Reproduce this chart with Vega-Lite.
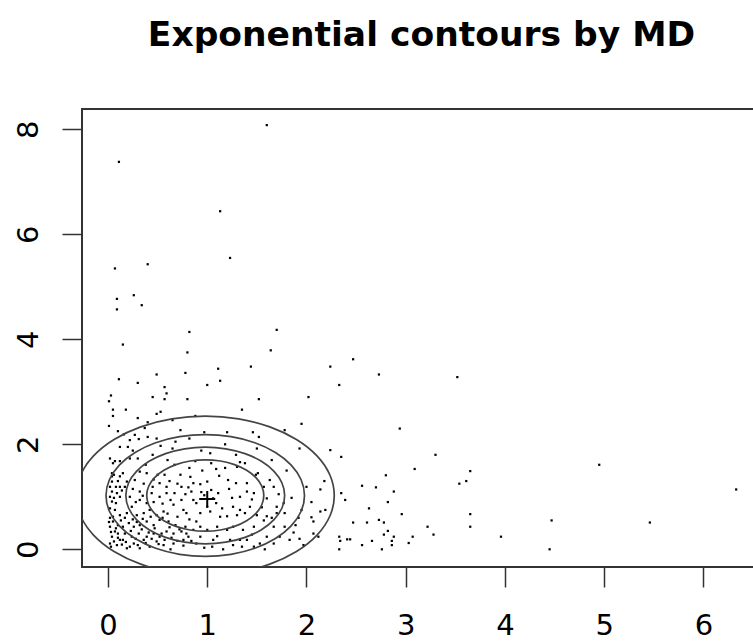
{
  "$schema": "https://vega.github.io/schema/vega-lite/v6.json",
  "autosize": {"type": "none"},
  "width": 679,
  "height": 458,
  "padding": {"left": 82, "top": 109, "right": 0, "bottom": 74},
  "background": "white",
  "title": {"text": "Exponential contours by MD", "font": "DejaVu Sans", "fontSize": 34.5, "fontWeight": "bold", "color": "black", "anchor": "middle", "frame": "group", "baseline": "alphabetic", "offset": 29},
  "config": {"view": {"stroke": "#333", "strokeWidth": 2}},
  "datasets": {
    "pts": [
      {"x":1.60,"y":8.08},{"x":0.11,"y":7.38},{"x":1.13,"y":6.44},{"x":1.23,"y":5.55},{"x":0.07,"y":5.35},{"x":0.40,"y":5.43},{"x":0.09,"y":4.77},{"x":0.26,"y":4.84},{"x":0.09,"y":4.57},{"x":0.34,"y":4.65},{"x":0.82,"y":4.14},{"x":1.70,"y":4.18},{"x":0.15,"y":3.90},{"x":0.80,"y":3.75},{"x":1.64,"y":3.79},{"x":2.47,"y":3.62},
      {"x":1.44,"y":3.48},{"x":1.11,"y":3.44},{"x":0.78,"y":3.36},{"x":0.49,"y":3.33},{"x":2.24,"y":3.48},{"x":2.73,"y":3.33},{"x":0.11,"y":3.24},{"x":0.30,"y":3.17},{"x":1.13,"y":3.21},{"x":1.00,"y":3.13},{"x":2.33,"y":3.13},{"x":0.57,"y":3.09},{"x":0.59,"y":2.97},{"x":0.03,"y":2.93},{"x":0.45,"y":2.90},{"x":0.57,"y":2.86},{"x":0.80,"y":2.86},{"x":1.52,"y":2.86},{"x":2.02,"y":2.90},{"x":0.01,"y":2.82},{"x":0.05,"y":2.66},{"x":0.18,"y":2.66},{"x":0.53,"y":2.62},{"x":0.49,"y":2.58},{"x":1.35,"y":2.66},{"x":0.05,"y":2.54},{"x":0.30,"y":2.50},{"x":0.65,"y":2.46},{"x":0.88,"y":2.54},{"x":1.95,"y":2.39},{"x":0.01,"y":2.35},{"x":0.37,"y":2.31},{"x":0.73,"y":2.27},{"x":0.97,"y":2.23},{"x":1.20,"y":2.23},{"x":1.46,"y":2.23},{"x":1.78,"y":2.27},{"x":1.52,"y":2.14},{"x":2.24,"y":1.89},{"x":2.35,"y":1.76},{"x":1.93,"y":1.92},{"x":1.50,"y":1.92},
      {"x":0.16,"y":2.19},{"x":0.22,"y":2.08},{"x":0.27,"y":2.18},{"x":0.31,"y":2.10},{"x":0.12,"y":1.95},{"x":0.20,"y":1.95},{"x":0.40,"y":2.14},{"x":0.49,"y":2.11},{"x":0.53,"y":1.97},{"x":0.82,"y":2.11},{"x":0.65,"y":1.92},{"x":0.94,"y":1.88},{"x":1.03,"y":1.83},{"x":1.29,"y":1.80},{"x":0.02,"y":1.73},{"x":0.05,"y":1.64},{"x":0.07,"y":1.68},{"x":0.12,"y":1.68},{"x":0.22,"y":1.73},{"x":0.30,"y":1.73},{"x":0.38,"y":1.61},{"x":0.67,"y":1.61},{"x":0.88,"y":1.68},{"x":1.04,"y":1.64},{"x":1.33,"y":1.66},{"x":1.38,"y":1.64},{"x":1.09,"y":1.53},{"x":1.30,"y":1.57},{"x":1.51,"y":1.45},
      {"x":0.04,"y":1.45},{"x":0.04,"y":1.39},{"x":0.06,"y":1.42},{"x":0.08,"y":1.19},{"x":0.15,"y":1.45},{"x":0.17,"y":1.19},{"x":0.09,"y":1.07},{"x":0.12,"y":1.00},{"x":0.08,"y":0.88},{"x":0.02,"y":0.78},{"x":0.07,"y":0.75},{"x":0.22,"y":1.00},{"x":0.24,"y":0.81},{"x":0.19,"y":0.69},{"x":0.29,"y":0.65},{"x":0.42,"y":0.75},{"x":0.56,"y":0.72},{"x":0.45,"y":1.19},{"x":0.44,"y":1.07},{"x":0.52,"y":1.00},{"x":0.63,"y":0.94},{"x":0.57,"y":1.42},{"x":0.50,"y":1.42},{"x":0.73,"y":1.42},{"x":0.83,"y":1.38},{"x":0.86,"y":1.26},{"x":0.74,"y":1.19},{"x":0.81,"y":1.18},{"x":0.93,"y":1.24},{"x":1.00,"y":1.29},{"x":0.84,"y":1.10},{"x":0.94,"y":1.09},{"x":1.04,"y":1.13},{"x":1.11,"y":1.07},{"x":1.21,"y":1.32},{"x":1.29,"y":1.26},{"x":1.40,"y":1.26},{"x":1.49,"y":1.42},{"x":1.63,"y":1.32},{"x":1.67,"y":1.19},{"x":1.85,"y":0.98},{"x":1.25,"y":0.98},{"x":1.09,"y":0.88},{"x":1.00,"y":0.81},{"x":0.89,"y":0.88},{"x":0.76,"y":0.75},{"x":0.82,"y":0.57},{"x":0.89,"y":0.53},{"x":1.13,"y":0.62},{"x":1.20,"y":0.63},{"x":1.30,"y":0.65},{"x":1.38,"y":0.69},{"x":1.50,"y":0.65},{"x":1.60,"y":0.63},{"x":1.70,"y":0.69},{"x":1.78,"y":0.69},
      {"x":2.00,"y":1.19},{"x":2.14,"y":1.14},{"x":2.18,"y":1.30},{"x":2.35,"y":1.07},{"x":2.39,"y":0.94},{"x":2.56,"y":1.21},{"x":2.70,"y":1.18},{"x":2.63,"y":0.78},{"x":2.47,"y":0.51},{"x":2.61,"y":0.51},{"x":2.73,"y":0.56},{"x":2.05,"y":0.61},{"x":2.07,"y":0.53},{"x":2.14,"y":0.72},{"x":2.19,"y":0.75},{"x":2.07,"y":0.30},{"x":2.12,"y":0.24},{"x":1.97,"y":0.08},{"x":1.87,"y":0.32},{"x":1.89,"y":0.46},{"x":2.33,"y":0.24},{"x":2.34,"y":0.16},{"x":2.41,"y":0.19},{"x":2.44,"y":0.19},{"x":2.33,"y":0.00},{"x":2.56,"y":0.08},{"x":2.66,"y":0.16},
      {"x":1.78,"y":0.43},{"x":1.60,"y":0.24},{"x":1.58,"y":0.00},{"x":1.47,"y":0.05},{"x":1.33,"y":0.18},{"x":1.26,"y":0.08},{"x":1.16,"y":0.00},{"x":1.06,"y":0.18},{"x":0.93,"y":0.24},{"x":0.89,"y":0.11},{"x":0.76,"y":0.18},{"x":0.76,"y":0.07},{"x":0.66,"y":0.11},{"x":0.63,"y":0.00},{"x":0.56,"y":0.08},{"x":0.49,"y":0.15},{"x":0.42,"y":0.05},{"x":0.36,"y":0.18},{"x":0.32,"y":0.02},{"x":0.26,"y":0.11},{"x":0.19,"y":0.02},{"x":0.15,"y":0.18},{"x":0.09,"y":0.08},{"x":0.02,"y":0.11},{"x":0.04,"y":0.24},{"x":0.10,"y":0.30},{"x":0.17,"y":0.30},{"x":0.24,"y":0.24},{"x":0.31,"y":0.30},{"x":0.39,"y":0.24},{"x":0.46,"y":0.30},{"x":0.52,"y":0.24},{"x":0.59,"y":0.34},{"x":0.66,"y":0.30},{"x":0.74,"y":0.34},{"x":0.81,"y":0.24},
      {"x":0.02,"y":0.43},{"x":0.05,"y":0.53},{"x":0.10,"y":0.46},{"x":0.15,"y":0.43},{"x":0.21,"y":0.50},{"x":0.26,"y":0.43},{"x":0.32,"y":0.46},{"x":0.39,"y":0.53},{"x":0.46,"y":0.46},{"x":0.52,"y":0.56},{"x":0.61,"y":0.53},{"x":0.68,"y":0.46},{"x":0.05,"y":0.62},{"x":0.12,"y":0.65},{"x":0.07,"y":0.34},{"x":0.12,"y":0.18},{"x":0.02,"y":0.60},{"x":0.36,"y":0.69},{"x":0.49,"y":0.65},{"x":0.39,"y":0.88},{"x":0.32,"y":0.94},{"x":0.32,"y":1.10},{"x":0.27,"y":1.32},{"x":0.19,"y":1.29},{"x":0.12,"y":1.39},{"x":0.32,"y":1.48},{"x":0.39,"y":1.45},{"x":0.12,"y":1.19},{"x":0.04,"y":1.29},{"x":0.02,"y":1.19},{"x":0.02,"y":1.00},{"x":0.04,"y":0.91},{"x":0.52,"y":1.26},{"x":0.59,"y":1.19},{"x":0.59,"y":1.07},{"x":0.67,"y":1.07},{"x":0.74,"y":0.94},{"x":0.86,"y":0.94},{"x":0.97,"y":1.03},{"x":1.06,"y":0.97},{"x":0.79,"y":0.69},{"x":0.93,"y":0.69},{"x":1.03,"y":0.72},{"x":1.26,"y":0.81},{"x":1.33,"y":0.75},{"x":1.43,"y":0.81},{"x":1.33,"y":1.00},{"x":1.47,"y":1.07},{"x":1.57,"y":1.19},{"x":1.60,"y":0.97},{"x":1.70,"y":0.81},{"x":1.77,"y":0.88},{"x":1.57,"y":0.55},{"x":1.47,"y":0.43},{"x":1.36,"y":0.37},{"x":1.26,"y":0.43},{"x":1.20,"y":0.37},{"x":1.10,"y":0.43},{"x":1.00,"y":0.37},{"x":0.93,"y":0.43},{"x":0.86,"y":0.37},{"x":0.78,"y":0.43},{"x":1.67,"y":0.43},{"x":1.73,"y":0.24},{"x":1.67,"y":0.11},{"x":1.53,"y":0.11},{"x":1.40,"y":0.18},{"x":1.23,"y":0.18},{"x":1.83,"y":0.18},{"x":1.93,"y":0.20},
      {"x":3.52,"y":3.28},{"x":2.94,"y":2.30},{"x":3.30,"y":1.80},{"x":3.09,"y":1.53},{"x":3.65,"y":1.49},{"x":2.80,"y":1.41},{"x":3.61,"y":1.30},{"x":3.54,"y":1.25},{"x":2.88,"y":1.10},{"x":2.82,"y":0.90},{"x":4.95,"y":1.61},{"x":6.33,"y":1.14},{"x":2.96,"y":0.67},{"x":3.65,"y":0.67},{"x":2.78,"y":0.51},{"x":4.47,"y":0.55},{"x":5.46,"y":0.51},{"x":2.82,"y":0.35},{"x":3.22,"y":0.43},{"x":3.65,"y":0.43},{"x":2.78,"y":0.28},{"x":2.88,"y":0.24},{"x":3.07,"y":0.24},{"x":3.28,"y":0.28},{"x":3.96,"y":0.24},{"x":2.86,"y":0.16},{"x":2.86,"y":0.08},{"x":3.03,"y":0.12},{"x":2.76,"y":0.00},{"x":4.45,"y":0.00},
      {"x":0.03,"y":0.05},{"x":0.06,"y":0.15},{"x":0.10,"y":0.22},{"x":0.14,"y":0.09},{"x":0.18,"y":0.14},{"x":0.22,"y":0.05},{"x":0.23,"y":0.35},{"x":0.28,"y":0.20},{"x":0.30,"y":0.08},{"x":0.34,"y":0.38},{"x":0.38,"y":0.12},{"x":0.41,"y":0.32},{"x":0.44,"y":0.20},{"x":0.47,"y":0.40},{"x":0.51,"y":0.10},{"x":0.54,"y":0.30},{"x":0.57,"y":0.18},{"x":0.62,"y":0.42},{"x":0.64,"y":0.22},{"x":0.70,"y":0.16},{"x":0.72,"y":0.38},{"x":0.79,"y":0.30},{"x":0.84,"y":0.16},{"x":0.08,"y":0.40},{"x":0.13,"y":0.55},{"x":0.17,"y":0.60},{"x":0.25,"y":0.57},{"x":0.29,"y":0.52},{"x":0.35,"y":0.58},{"x":0.43,"y":0.62},{"x":0.55,"y":0.60},{"x":0.03,"y":0.33},{"x":0.01,"y":0.52},{"x":0.06,"y":0.98},{"x":0.04,"y":1.10},{"x":0.10,"y":1.30},{"x":0.14,"y":1.12},{"x":0.25,"y":1.15},{"x":0.28,"y":0.90},{"x":0.35,"y":1.02},{"x":0.36,"y":1.25},{"x":0.46,"y":1.33},{"x":0.62,"y":1.30},{"x":0.70,"y":1.25},{"x":0.78,"y":1.05},{"x":0.66,"y":0.85},{"x":0.55,"y":0.87},{"x":0.46,"y":0.90},{"x":0.70,"y":0.62},{"x":0.60,"y":0.68},{"x":1.15,"y":0.78},{"x":1.22,"y":1.15},{"x":1.40,"y":1.10},{"x":1.12,"y":1.40},{"x":0.95,"y":1.50},{"x":0.82,"y":1.55},{"x":1.18,"y":1.55},{"x":0.60,"y":1.70},{"x":0.45,"y":1.80},{"x":0.25,"y":1.88},{"x":1.45,"y":0.95},{"x":1.55,"y":0.80},{"x":1.65,"y":0.60},{"x":1.10,"y":0.25},{"x":1.45,"y":0.28},{"x":1.05,"y":0.05},{"x":0.97,"y":0.03},{"x":1.35,"y":0.05},{"x":1.92,"y":0.60},{"x":1.95,"y":0.75},{"x":2.05,"y":0.90},{"x":1.72,"y":1.05},{"x":1.80,"y":1.50},{"x":1.65,"y":1.70},{"x":1.18,"y":2.00},{"x":0.68,"y":2.05},{"x":0.10,"y":2.25},{"x":0.40,"y":2.42}
    ],
    "ell": [
      {"e":1,"i":0,"x":1.57,"y":1.025},{"e":1,"i":1,"x":1.55,"y":1.201},{"e":1,"i":2,"x":1.491,"y":1.365},{"e":1,"i":3,"x":1.397,"y":1.506},{"e":1,"i":4,"x":1.275,"y":1.614},{"e":1,"i":5,"x":1.133,"y":1.682},{"e":1,"i":6,"x":0.98,"y":1.705},{"e":1,"i":7,"x":0.827,"y":1.682},{"e":1,"i":8,"x":0.685,"y":1.614},{"e":1,"i":9,"x":0.563,"y":1.506},{"e":1,"i":10,"x":0.469,"y":1.365},{"e":1,"i":11,"x":0.41,"y":1.201},{"e":1,"i":12,"x":0.39,"y":1.025},{"e":1,"i":13,"x":0.41,"y":0.849},{"e":1,"i":14,"x":0.469,"y":0.685},{"e":1,"i":15,"x":0.563,"y":0.544},{"e":1,"i":16,"x":0.685,"y":0.436},{"e":1,"i":17,"x":0.827,"y":0.368},{"e":1,"i":18,"x":0.98,"y":0.345},{"e":1,"i":19,"x":1.133,"y":0.368},{"e":1,"i":20,"x":1.275,"y":0.436},{"e":1,"i":21,"x":1.397,"y":0.544},{"e":1,"i":22,"x":1.491,"y":0.685},{"e":1,"i":23,"x":1.55,"y":0.849},
      {"e":2,"i":0,"x":1.78,"y":1.025},{"e":2,"i":1,"x":1.753,"y":1.263},{"e":2,"i":2,"x":1.673,"y":1.485},{"e":2,"i":3,"x":1.546,"y":1.676},{"e":2,"i":4,"x":1.38,"y":1.822},{"e":2,"i":5,"x":1.187,"y":1.914},{"e":2,"i":6,"x":0.98,"y":1.945},{"e":2,"i":7,"x":0.773,"y":1.914},{"e":2,"i":8,"x":0.58,"y":1.822},{"e":2,"i":9,"x":0.414,"y":1.676},{"e":2,"i":10,"x":0.287,"y":1.485},{"e":2,"i":11,"x":0.207,"y":1.263},{"e":2,"i":12,"x":0.18,"y":1.025},{"e":2,"i":13,"x":0.207,"y":0.787},{"e":2,"i":14,"x":0.287,"y":0.565},{"e":2,"i":15,"x":0.414,"y":0.374},{"e":2,"i":16,"x":0.58,"y":0.228},{"e":2,"i":17,"x":0.773,"y":0.136},{"e":2,"i":18,"x":0.98,"y":0.105},{"e":2,"i":19,"x":1.187,"y":0.136},{"e":2,"i":20,"x":1.38,"y":0.228},{"e":2,"i":21,"x":1.546,"y":0.374},{"e":2,"i":22,"x":1.673,"y":0.565},{"e":2,"i":23,"x":1.753,"y":0.787},
      {"e":3,"i":0,"x":1.98,"y":1.025},{"e":3,"i":1,"x":1.946,"y":1.325},{"e":3,"i":2,"x":1.846,"y":1.605},{"e":3,"i":3,"x":1.687,"y":1.845},{"e":3,"i":4,"x":1.48,"y":2.03},{"e":3,"i":5,"x":1.239,"y":2.145},{"e":3,"i":6,"x":0.98,"y":2.185},{"e":3,"i":7,"x":0.721,"y":2.145},{"e":3,"i":8,"x":0.48,"y":2.03},{"e":3,"i":9,"x":0.273,"y":1.845},{"e":3,"i":10,"x":0.114,"y":1.605},{"e":3,"i":11,"x":0.014,"y":1.325},{"e":3,"i":12,"x":-0.02,"y":1.025},{"e":3,"i":13,"x":0.014,"y":0.725},{"e":3,"i":14,"x":0.114,"y":0.445},{"e":3,"i":15,"x":0.273,"y":0.205},{"e":3,"i":16,"x":0.48,"y":0.02},{"e":3,"i":17,"x":0.721,"y":-0.095},{"e":3,"i":18,"x":0.98,"y":-0.135},{"e":3,"i":19,"x":1.239,"y":-0.095},{"e":3,"i":20,"x":1.48,"y":0.02},{"e":3,"i":21,"x":1.687,"y":0.205},{"e":3,"i":22,"x":1.846,"y":0.445},{"e":3,"i":23,"x":1.946,"y":0.725},
      {"e":4,"i":0,"x":2.28,"y":1.025},{"e":4,"i":1,"x":2.236,"y":1.416},{"e":4,"i":2,"x":2.106,"y":1.78},{"e":4,"i":3,"x":1.899,"y":2.093},{"e":4,"i":4,"x":1.63,"y":2.333},{"e":4,"i":5,"x":1.316,"y":2.484},{"e":4,"i":6,"x":0.98,"y":2.535},{"e":4,"i":7,"x":0.644,"y":2.484},{"e":4,"i":8,"x":0.33,"y":2.333},{"e":4,"i":9,"x":0.061,"y":2.093},{"e":4,"i":10,"x":-0.146,"y":1.78},{"e":4,"i":11,"x":-0.276,"y":1.416},{"e":4,"i":12,"x":-0.32,"y":1.025},{"e":4,"i":13,"x":-0.276,"y":0.634},{"e":4,"i":14,"x":-0.146,"y":0.27},{"e":4,"i":15,"x":0.061,"y":-0.043},{"e":4,"i":16,"x":0.33,"y":-0.283},{"e":4,"i":17,"x":0.644,"y":-0.434},{"e":4,"i":18,"x":0.98,"y":-0.485},{"e":4,"i":19,"x":1.316,"y":-0.434},{"e":4,"i":20,"x":1.63,"y":-0.283},{"e":4,"i":21,"x":1.899,"y":-0.043},{"e":4,"i":22,"x":2.106,"y":0.27},{"e":4,"i":23,"x":2.236,"y":0.634}
    ],
    "ctr": [{"x":1.0,"y":0.96}]
  },
  "encoding": {
    "x": {"field": "x", "type": "quantitative", "scale": {"domain": [-0.262, 6.58], "nice": false, "zero": false},
      "axis": {"values": [0,1,2,3,4,5,6], "title": null, "grid": false, "domain": false, "tickSize": 20, "tickWidth": 1.5, "tickColor": "#333", "labelFont": "DejaVu Sans", "labelFontSize": 29, "labelColor": "black", "labelPadding": 47, "labelBaseline": "alphabetic", "labelAlign": "center", "labelFlush": false, "labelOverlap": false}},
    "y": {"field": "y", "type": "quantitative", "scale": {"domain": [-0.337, 8.387], "nice": false, "zero": false},
      "axis": {"values": [0,2,4,6,8], "title": null, "grid": false, "domain": false, "tickSize": 20, "tickWidth": 1.5, "tickColor": "#333", "labelFont": "DejaVu Sans", "labelFontSize": 29, "labelColor": "black", "labelAngle": -90, "labelAlign": "center", "labelBaseline": "alphabetic", "labelPadding": 25, "labelFlush": false, "labelOverlap": false}}
  },
  "layer": [
    {"data": {"name": "pts"}, "mark": {"type": "point", "shape": "square", "filled": true, "size": 5, "color": "black", "opacity": 1, "clip": true}},
    {"data": {"name": "ell"}, "mark": {"type": "line", "interpolate": "cardinal-closed", "color": "#444", "strokeWidth": 1.7, "clip": true},
      "encoding": {"detail": {"field": "e", "type": "nominal"}, "order": {"field": "i", "type": "quantitative"}}},
    {"data": {"name": "ctr"}, "mark": {"type": "point", "shape": "M-1,0L1,0M0,-1L0,1", "filled": false, "size": 256, "color": "black", "strokeWidth": 2, "opacity": 1}}
  ]
}
